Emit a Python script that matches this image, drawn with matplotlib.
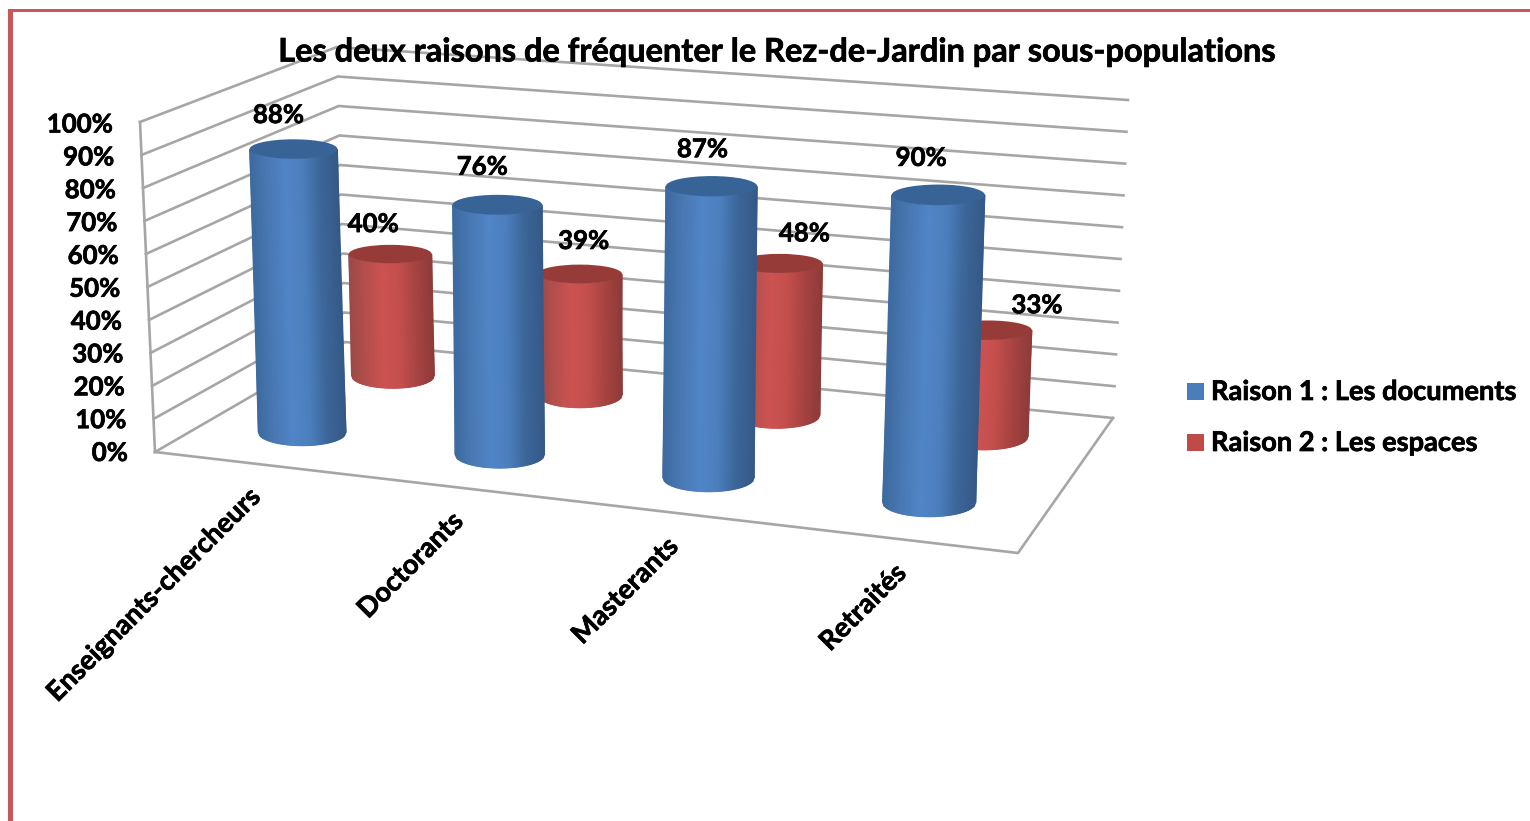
import numpy as np
import matplotlib
matplotlib.use("Agg")
import matplotlib.pyplot as plt
import matplotlib.patheffects as pe
from matplotlib.colors import LinearSegmentedColormap
from matplotlib.patches import Ellipse, Rectangle

plt.rcParams['font.family'] = ['Lato', 'DejaVu Sans']

# data
categories = ['Enseignants-chercheurs', 'Doctorants', 'Masterants', 'Retraités']
raison_1 = [88, 76, 87, 90]
raison_2 = [40, 39, 48, 33]
series_names = ['Raison 1 : Les documents', 'Raison 2 : Les espaces']
ticks = [0, 10, 20, 30, 40, 50, 60, 70, 80, 90, 100]
title = 'Les deux raisons de fréquenter le Rez-de-Jardin par sous-populations'

# 3d box seen on the page, in pixels: floor corners and the 100% vector at each
FLOOR = {'fl': (155, 452), 'bl': (345, 342), 'br': (1113, 418), 'fr': (1018, 553)}
UP = {'fl': (-15, -330), 'bl': (-8, -295), 'br': (15, -318), 'fr': (13, -358)}
DEPTH = {'r1': 0.25, 'r2': 0.755}
BAR_SCALE = 0.992
GREY = '#a6a6a6'
FRAME = '#c8575a'
BOLD = [pe.withStroke(linewidth=0.5, foreground='black')]

# label nudges from the top of each cylinder
r1_label_dx = [-15, -15, -9, -17]
r1_label_dy = [-34, -38, -37, -37]
r2_label_dx = [-17, 4, 25, 49]
r2_label_dy = [-30, -33, -30, -25]


def floor_matrix():
    # homography from the unit square to the floor
    src = [(0, 0), (0, 1), (1, 1), (1, 0)]
    dst = [FLOOR['fl'], FLOOR['bl'], FLOOR['br'], FLOOR['fr']]
    a, b = [], []
    for (x, y), (u, v) in zip(src, dst):
        a.append([x, y, 1, 0, 0, 0, -u * x, -u * y])
        a.append([0, 0, 0, x, y, 1, -v * x, -v * y])
        b += [u, v]
    h = np.linalg.solve(np.array(a, float), np.array(b, float))
    return np.append(h, 1).reshape(3, 3)


H = floor_matrix()


def up_vector(x, y):
    res = np.zeros(2)
    for key, wx, wy in [('fl', 1 - x, 1 - y), ('bl', 1 - x, y), ('br', x, y), ('fr', x, 1 - y)]:
        res += wx * wy * np.array(UP[key], float)
    return res


def project(x, y, value=0):
    p = H @ np.array([x, y, 1.0])
    return p[:2] / p[2] + up_vector(x, y) * value / 100


def cylinder(ax, x, y, value, cmap, cap_color):
    bottom = project(x, y, 0)
    top = project(x, y, value * BAR_SCALE)
    full = -up_vector(x, y)[1]
    half = 0.135 * full
    ry_bot, ry_top = 0.041 * full, 0.03 * full
    u = np.linspace(-1, 1, 61)
    arc = np.sqrt(1 - u ** 2)
    t = np.linspace(0, 1, 2)
    xs = np.array([top[0] + (bottom[0] - top[0]) * s + half * u for s in t])
    ys = np.array([top[1] + ry_top * arc + (bottom[1] + ry_bot * arc - top[1] - ry_top * arc) * s for s in t])
    ax.pcolormesh(xs, ys, np.array([(u + 1) / 2, (u + 1) / 2]), cmap=cmap, vmin=0, vmax=1,
                  shading='gouraud', zorder=3)
    ax.add_patch(Ellipse(top, 2 * half, 2 * ry_top, fc=cap_color, ec='none', zorder=3))
    return top


def label(ax, x, y, text, size=19.6, **kw):
    return ax.text(x, y, text, fontsize=size, fontweight='bold', path_effects=BOLD, **kw)


fig = plt.figure(figsize=(15.3, 8.21), dpi=100)
ax = fig.add_axes([0, 0, 1, 1])
ax.set_xlim(0, 1530)
ax.set_ylim(821, 0)
ax.axis('off')

# frame
ax.add_patch(Rectangle((8, 9.5), 1522, 2.8, fc=FRAME, ec='none'))
ax.add_patch(Rectangle((8, 9.5), 5.2, 812, fc=FRAME, ec='none'))

# walls
for v in ticks:
    pts = np.array([project(0, 0, v), project(0, 1, v), project(1, 1, v)])
    ax.plot(pts[:, 0], pts[:, 1], color=GREY, lw=1.9, zorder=1, solid_joinstyle='miter')
    pos = project(0, 0, v)
    label(ax, pos[0] - 27, pos[1] + 1 + 1.5 * v / 100, f'{v}%', size=18.6, ha='right', va='center', zorder=5)
edge = np.array([project(0, 0, 0), project(0, 0, 100)])
ax.plot(edge[:, 0], edge[:, 1], color=GREY, lw=1.9, zorder=1)
floor = np.array([project(0, 0), project(1, 0), project(1, 1)])
ax.plot(floor[:, 0], floor[:, 1], color=GREY, lw=1.9, zorder=1, solid_joinstyle='miter')

blue_map = LinearSegmentedColormap.from_list('b', ['#3d6a9f', '#4a79b4', '#5085c8', '#4c7fbd', '#3c6699', '#355a88'])
red_map = LinearSegmentedColormap.from_list('r', ['#9c4a47', '#b54f4c', '#cc5352', '#c44f4d', '#a74442', '#8e3b39'])

n = len(categories)
for i in range(n):
    top = cylinder(ax, (i + 0.5) / n, DEPTH['r2'], raison_2[i], red_map, '#973b39')
    label(ax, top[0] + r2_label_dx[i], top[1] + r2_label_dy[i], f'{raison_2[i]}%', size=18.6,
          ha='center', va='center', zorder=6)
for i in range(n):
    top = cylinder(ax, (i + 0.5) / n, DEPTH['r1'], raison_1[i], blue_map, '#376396')
    label(ax, top[0] + r1_label_dx[i], top[1] + r1_label_dy[i], f'{raison_1[i]}%', size=18.6,
          ha='center', va='center', zorder=6)

# category labels
for i, name in enumerate(categories):
    pos = project((i + 0.5) / n, 0)
    label(ax, pos[0] + 3, pos[1] + 30, name, rotation=45, rotation_mode='anchor', ha='right', va='center', zorder=5)

label(ax, 777, 52, title, size=23.4, ha='center', va='center', zorder=6)

# legend
for k, (name, color) in enumerate(zip(series_names, ['#4a7ebb', '#be4b48'])):
    ax.add_patch(Rectangle((1187, 383 + 51.5 * k), 17, 17, fc=color, ec='none'))
    label(ax, 1211, 392 + 51 * k, name, ha='left', va='center')

fig.savefig('out.png', dpi=100)
